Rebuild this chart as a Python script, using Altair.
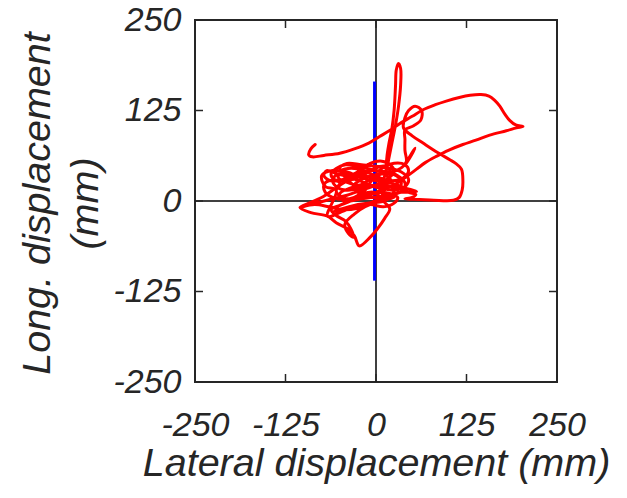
import altair as alt
import pandas as pd

# Trajectory (lateral, longitudinal) in mm
lat = [-84, -90, -93, -88, -72, -50, -30, -10, 5, 20, 33, 50, 65, 82, 97, 115, 130, 145, 156, 164,
       171, 178, 185, 193, 203, 194, 180, 157, 138, 120, 100, 84, 68, 56, 44, 33, 20,
       5, 12, 8, -5, -20, -30, -25, -10, 5, 15, 20, 12, -2, -15, -35, -50, -60, -55, -40,
       -20, 0, 18, 30, 35, 28, 10, -8, -22, -38, -52, -48, -30, -12, 5, 22, 38, 45, 40,
       25, 8, -5, -15, -30, -45, -60, -70, -72, -65, -50, -70,
       -90, -105, -90, -67, -55, -40, -30, -23, -8, 3, 12, 19, 12, 5, -2, -18, -35,
       -50, -62, -55, -42, -35, -31, -38, -43, -30, -15, 0, 12, 22, 25,
       18, 5, -12, -28, -42, -55, -62, -58, -45, -30, -15, 0, 15, 30, 45, 55, 50, 40, 60,
       80, 107, 115, 119, 120, 118, 110, 102, 85, 65, 50, 38,
       40, 45, 54, 63, 62, 52, 40, 40, 40, 42, 38, 54, 40, 28, 15,
       15, 18, 22, 25, 27, 28, 31, 34, 34, 31, 27, 22, 18, 15, 10,
       0, -15, -30, -45, -55, -48, -30, -10, 8, 20, 30, 25, 10, -8, -25, -45, -65, -85,
       -105, -80, -60, -40, -20, 0, 15, 25, 20, 8, -8, -22, -38, -55, -68, -72, -62, -45,
       -25, -5, 15, 30, 40, 38, 28, -5,
       -50, -40, -20, 0, 20, 35, 45, 40, 25, 5, -15, -35, -50, -45, -25, -5, 15, 35, 56,
       40, 20, 0, -20, -40, -60, -75, -70, -55, -67, -40, -15, 5, 25, -60, -30, 0, 10]
lon = [78, 72, 64, 61, 63, 66, 72, 80, 89, 98, 107, 117, 126, 133, 138, 143, 146, 147, 145, 139,
       131, 120, 111, 105, 103, 101, 97, 91, 84, 78, 70, 62, 53, 44, 35, 27, 20,
       12, 20, 30, 35, 30, 22, 12, 8, 15, 28, 40, 48, 45, 38, 35, 38, 30, 20, 15,
       18, 22, 20, 15, 25, 35, 38, 30, 22, 25, 32, 42, 45, 40, 32, 28, 32, 42, 50,
       52, 45, 30, 15, 5, 2, 5, 12, 22, 28, 25, 8,
       -2, -9, -16, -21, -30, -38, -48, -62, -50, -37, -24, -11, -2, 6, 12, 10, 0,
       -6, -12, -20, -28, -38, -50, -45, -32, -18, -8, -2, 0, 8, 20,
       32, 40, 45, 48, 50, 45, 38, 30, 28, 32, 35, 30, 22, 18, 12, 9, 5, 3, 2,
       1, 1, 5, 15, 28, 44, 52, 57, 67, 80, 90, 101,
       115, 125, 131, 125, 112, 104, 98, 85, 70, 55, 48, 73, 50, 42, 40,
       60, 80, 100, 125, 160, 181, 190, 183, 160, 130, 105, 80, 60, 45, 30,
       20, 25, 30, 25, 15, 5, 3, 8, 12, 10, 5, -3, -8, -5, -10, -12, -8, -5,
       -9, -2, 3, 8, 15, 22, 30, 40, 50, 55, 52, 42, 35, 38, 42, 35, 28, 30,
       38, 42, 40, 35, 25, 15, 10, 5,
       45, 52, 50, 48, 45, 40, 30, 20, 15, 18, 22, 18, 10, 0, 2, 5, 8, 12, 13,
       18, 25, 28, 32, 40, 42, 35, 20, 15, -21, -12, -5, 2, 5, -15, -6, 0, 10]

tick_values = [-250, -125, 0, 125, 250]
blue_x = [-2]
blue_y_start = [-110]
blue_y_end = [165]

W, H = 362, 362
TXT = "#262626"
FONT = "Liberation Sans"

traj = pd.DataFrame({"lat": lat, "lon": lon, "step": list(range(len(lat)))})
ticks_df = pd.DataFrame({"t": tick_values})
zero_df = pd.DataFrame({"z": [0]})
blue_df = pd.DataFrame({"bx": blue_x, "by1": blue_y_start, "by2": blue_y_end})

xs = alt.Scale(domain=[-250, 250], nice=False, zero=False)
ys = alt.Scale(domain=[-250, 250], nice=False, zero=False)

LABEL_EXPR = "replace(datum.label, '\u2212', '-')"

x_axis = alt.Axis(values=tick_values, ticks=False, tickSize=0, domain=False, grid=False,
                  labelExpr=LABEL_EXPR,
                  labelFont=FONT, labelFontStyle="italic", labelFontSize=34, labelColor=TXT,
                  labelPadding=53, labelBaseline="alphabetic", labelFlush=False, labelOverlap=False,
                  titleFont=FONT, titleFontSize=39.5, titleFontStyle="italic", titleFontWeight="normal",
                  titleColor=TXT, titleX=181, titleY=93, titleBaseline="alphabetic", titleAlign="center")
y_axis = alt.Axis(values=tick_values, ticks=False, tickSize=0, domain=False, grid=False,
                  labelExpr=LABEL_EXPR,
                  labelFont=FONT, labelFontStyle="italic", labelFontSize=34, labelColor=TXT,
                  labelPadding=14, labelBaseline="middle", labelAlign="right",
                  labelFlush=False, labelOverlap=False,
                  titleFont=FONT, titleFontSize=39.5, titleFontStyle="italic", titleFontWeight="normal",
                  titleColor=TXT, titleX=-146, titleY=183, titleAngle=270, titleAlign="center",
                  titleBaseline="alphabetic", titleLineHeight=48)

XT = "Lateral displacement (mm)"
YT = ["Long. displacement", "(mm)"]

zero_v = alt.Chart(zero_df).mark_rule(color="black", strokeWidth=1.5).encode(
    x=alt.X("z:Q", scale=xs, axis=x_axis, title=XT))
zero_h = alt.Chart(zero_df).mark_rule(color="black", strokeWidth=1.5).encode(
    y=alt.Y("z:Q", scale=ys, axis=y_axis, title=YT))

blue = alt.Chart(blue_df).mark_rule(color="#0000ff", strokeWidth=3).encode(
    x=alt.X("bx:Q", scale=xs, axis=x_axis, title=XT),
    y=alt.Y("by1:Q", scale=ys, axis=y_axis, title=YT),
    y2="by2:Q")

red = alt.Chart(traj).mark_line(color="#ff0000", strokeWidth=3, strokeJoin="round", strokeCap="round",
                                interpolate="catmull-rom").encode(
    x=alt.X("lat:Q", scale=xs, axis=x_axis, title=XT),
    y=alt.Y("lon:Q", scale=ys, axis=y_axis, title=YT),
    order="step:Q")

tick_style = dict(color=TXT, strokeWidth=1.5)
t_bottom = alt.Chart(ticks_df).mark_rule(**tick_style).encode(
    x=alt.X("t:Q", scale=xs, axis=x_axis, title=XT), y=alt.value(H), y2=alt.value(H - 8))
t_top = alt.Chart(ticks_df).mark_rule(**tick_style).encode(
    x=alt.X("t:Q", scale=xs, axis=x_axis, title=XT), y=alt.value(0), y2=alt.value(8))
t_left = alt.Chart(ticks_df).mark_rule(**tick_style).encode(
    y=alt.Y("t:Q", scale=ys, axis=y_axis, title=YT), x=alt.value(0), x2=alt.value(8))
t_right = alt.Chart(ticks_df).mark_rule(**tick_style).encode(
    y=alt.Y("t:Q", scale=ys, axis=y_axis, title=YT), x=alt.value(W), x2=alt.value(W - 8))

chart = alt.layer(zero_v, zero_h, t_bottom, t_top, t_left, t_right, blue, red).properties(
    width=W, height=H,
    autosize=alt.AutoSizeParams(type="none"),
    padding={"left": 195, "top": 20, "right": 70, "bottom": 116},
    background="white",
).configure_view(stroke=TXT, strokeWidth=2)

chart.save("out.html", embed_options={"renderer": "svg", "actions": False})
